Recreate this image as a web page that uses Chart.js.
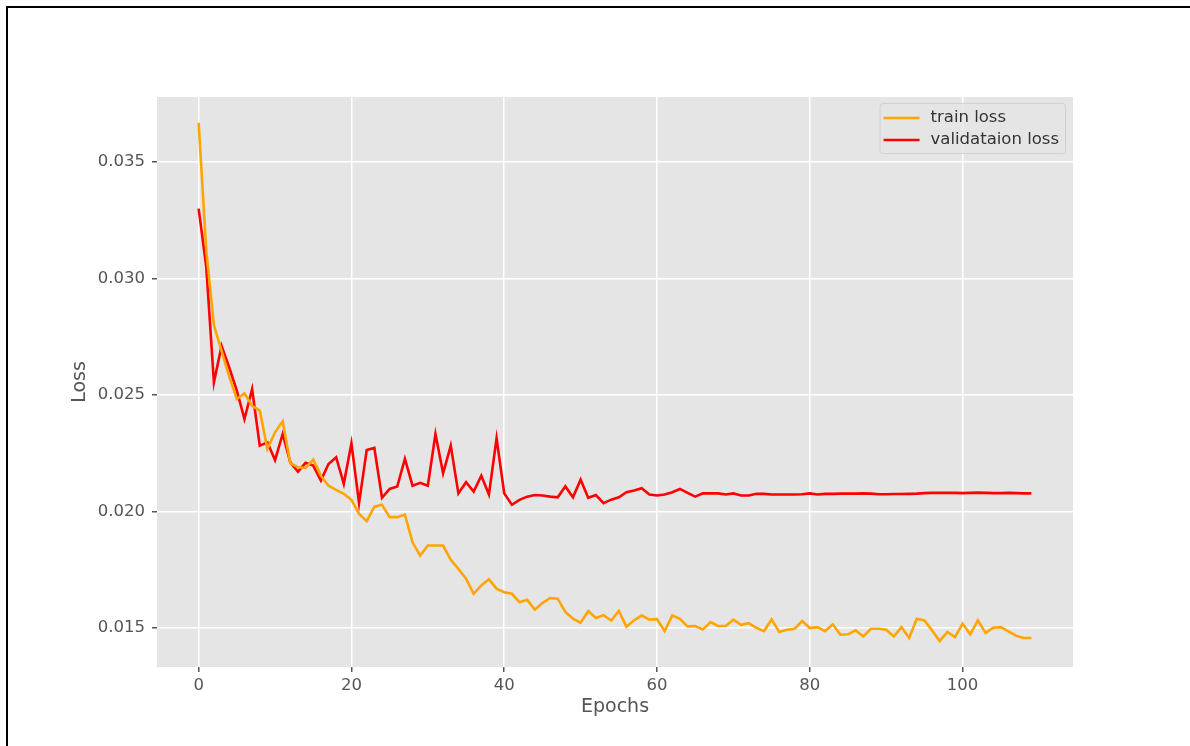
<!DOCTYPE html>
<html>
<head>
<meta charset="utf-8">
<title>Loss curves</title>
<script src="https://cdn.jsdelivr.net/npm/chart.js@4/dist/chart.umd.min.js"></script>
<style>
  html, body { margin: 0; padding: 0; background: #ffffff; }
  #wrap { position: relative; width: 1190px; height: 746px; overflow: hidden; }
  #frame { position: absolute; left: 6px; top: 6px; width: 1200px; height: 760px;
           border-top: 2px solid #000; border-left: 2px solid #000; pointer-events: none; }
  canvas { position: absolute; left: 0; top: 0; }
</style>
</head>
<body>
<div id="wrap">
  <canvas id="chart" width="1190" height="746"></canvas>
  <div id="frame"></div>
</div>
<script>
// Training history: one value per epoch
const trainLoss = [
  0.03668, 0.03120, 0.02800, 0.02690, 0.02580, 0.02483, 0.02507, 0.02454, 0.02433, 0.02269,
  0.02340, 0.02387, 0.02207, 0.02190, 0.02187, 0.02223, 0.02154, 0.02111, 0.02093, 0.02076,
  0.02050, 0.01990, 0.01959, 0.02021, 0.02029, 0.01976, 0.01976, 0.01987, 0.01868, 0.01811,
  0.01854, 0.01854, 0.01854, 0.01793, 0.01754, 0.01712, 0.01647, 0.01683, 0.01709, 0.01669,
  0.01654, 0.01647, 0.01611, 0.01621, 0.01579, 0.01607, 0.01629, 0.01626, 0.01569, 0.01540,
  0.01523, 0.01573, 0.01543, 0.01555, 0.01532, 0.01573, 0.01506, 0.01533, 0.01554, 0.01536,
  0.01538, 0.01487, 0.01554, 0.01540, 0.01507, 0.01509, 0.01494, 0.01526, 0.01509, 0.01509,
  0.01536, 0.01514, 0.01521, 0.01501, 0.01487, 0.01537, 0.01483, 0.01493, 0.01497, 0.01530,
  0.01500, 0.01504, 0.01487, 0.01516, 0.01472, 0.01473, 0.01490, 0.01464, 0.01497, 0.01497,
  0.01493, 0.01464, 0.01504, 0.01457, 0.01540, 0.01533, 0.01490, 0.01444, 0.01483, 0.01461,
  0.01519, 0.01473, 0.01533, 0.01479, 0.01501, 0.01504, 0.01486, 0.01467, 0.01457, 0.01457
];
const valLoss = [
  0.03300, 0.03050, 0.02554, 0.02711, 0.02618, 0.02519, 0.02397, 0.02526, 0.02283, 0.02297,
  0.02221, 0.02333, 0.02211, 0.02171, 0.02209, 0.02197, 0.02133, 0.02204, 0.02233, 0.02119,
  0.02293, 0.02036, 0.02264, 0.02273, 0.02059, 0.02097, 0.02108, 0.02226, 0.02111, 0.02123,
  0.02111, 0.02333, 0.02164, 0.02283, 0.02078, 0.02126, 0.02086, 0.02154, 0.02073, 0.02314,
  0.02078, 0.02029, 0.02050, 0.02064, 0.02071, 0.02069, 0.02064, 0.02061, 0.02108, 0.02061,
  0.02137, 0.02059, 0.02071, 0.02036, 0.02051, 0.02061, 0.02083, 0.02090, 0.02100, 0.02073,
  0.02069, 0.02073, 0.02083, 0.02097, 0.02080, 0.02064, 0.02078, 0.02078, 0.02078, 0.02073,
  0.02078, 0.02069, 0.02069, 0.02076, 0.02076, 0.02073, 0.02073, 0.02073, 0.02073, 0.02074,
  0.02078, 0.02073, 0.02076, 0.02076, 0.02077, 0.02077, 0.02077, 0.02078, 0.02077, 0.02074,
  0.02074, 0.02075, 0.02075, 0.02076, 0.02077, 0.02079, 0.02080, 0.02080, 0.02080, 0.02080,
  0.02079, 0.02080, 0.02081, 0.02080, 0.02079, 0.02079, 0.02080, 0.02079, 0.02078, 0.02078
];
const epochs = trainLoss.map((_, i) => i);
const xTicks = [0, 20, 40, 60, 80, 100];
const yTicks = [0.015, 0.020, 0.025, 0.030, 0.035];
const seriesNames = ['train loss', 'validataion loss'];
const seriesColors = ['#FFA500', '#FF0000'];
const xTitle = 'Epochs';
const yTitle = 'Loss';

// Axis limits with a 5% margin around the data, matplotlib-style
function padded(lo, hi) { const m = (hi - lo) * 0.05; return [lo - m, hi + m]; }
const [xMin, xMax] = padded(Math.min(...epochs), Math.max(...epochs));
const allY = trainLoss.concat(valLoss);
const [yMin, yMax] = padded(Math.min(...allY), Math.max(...allY));

const FONT = '"DejaVu Sans", sans-serif';
const PANEL = '#E5E5E5';
const TICK_COLOR = '#555555';

const panelBackground = {
  id: 'panelBackground',
  beforeDraw(chart) {
    const { ctx, chartArea: a } = chart;
    ctx.save();
    ctx.fillStyle = PANEL;
    ctx.fillRect(a.left, a.top, a.right - a.left, a.bottom - a.top);
    ctx.restore();
  }
};

const axisTitles = {
  id: 'axisTitles',
  afterDraw(chart) {
    const { ctx, chartArea: a } = chart;
    ctx.save();
    ctx.fillStyle = TICK_COLOR;
    ctx.font = '19px ' + FONT;
    ctx.textAlign = 'center';
    ctx.textBaseline = 'middle';
    ctx.fillText(xTitle, (a.left + a.right) / 2, 707);
    ctx.translate(80, (a.top + a.bottom) / 2);
    ctx.rotate(-Math.PI / 2);
    ctx.fillText(yTitle, 0, 0);
    ctx.restore();
  }
};

// Legend box in the upper-right corner of the panel
const insetLegend = {
  id: 'insetLegend',
  afterDatasetsDraw(chart) {
    const { ctx, chartArea: a } = chart;
    const ds = chart.data.datasets;
    ctx.save();
    ctx.font = '16.5px ' + FONT;
    let textW = 0;
    ds.forEach(d => { textW = Math.max(textW, ctx.measureText(d.label).width); });
    const handle = 36, gap = 11, padX = 4, rowH = 22, padY = 3;
    const w = padX + handle + gap + textW + padX + 2;
    const h = padY * 2 + rowH * ds.length;
    const x = a.right - 8 - w, y = a.top + 6;
    ctx.globalAlpha = 0.8;
    ctx.fillStyle = PANEL;
    ctx.strokeStyle = '#CCCCCC';
    ctx.lineWidth = 1;
    ctx.beginPath();
    ctx.roundRect(x + 0.5, y + 0.5, w, h, 3);
    ctx.fill();
    ctx.stroke();
    ctx.globalAlpha = 1;
    ds.forEach((d, i) => {
      const cy = y + padY + rowH * i + rowH / 2 + 1;
      ctx.strokeStyle = d.borderColor;
      ctx.lineWidth = 2.6;
      ctx.beginPath();
      ctx.moveTo(x + padX, cy);
      ctx.lineTo(x + padX + handle, cy);
      ctx.stroke();
      ctx.fillStyle = '#333333';
      ctx.textAlign = 'left';
      ctx.textBaseline = 'middle';
      ctx.fillText(d.label, x + padX + handle + gap, cy);
    });
    ctx.restore();
  }
};

new Chart(document.getElementById('chart'), {
  type: 'line',
  data: {
    labels: epochs,
    datasets: [trainLoss, valLoss].map((vals, k) => ({
      label: seriesNames[k],
      data: vals.map((v, i) => ({ x: epochs[i], y: v })),
      borderColor: seriesColors[k],
      backgroundColor: seriesColors[k],
      borderWidth: 2.6,
      pointRadius: 0,
      tension: 0,
      fill: false
    }))
  },
  options: {
    responsive: false,
    devicePixelRatio: 1,
    animation: false,
    layout: { padding: { left: 0, right: 117, top: 97, bottom: 0 } },
    plugins: { legend: { display: false }, tooltip: { enabled: false } },
    scales: {
      x: {
        type: 'linear',
        min: xMin,
        max: xMax,
        afterBuildTicks(scale) { scale.ticks = xTicks.map(v => ({ value: v })); },
        afterFit(scale) { scale.height = 79; },
        border: { display: false },
        grid: { color: '#FFFFFF', lineWidth: 1.5, tickColor: TICK_COLOR, tickLength: 5, drawTicks: true },
        ticks: { color: TICK_COLOR, font: { family: FONT, size: 16.5 }, padding: 4, maxRotation: 0,
                 callback: v => String(v) }
      },
      y: {
        type: 'linear',
        min: yMin,
        max: yMax,
        afterBuildTicks(scale) { scale.ticks = yTicks.map(v => ({ value: v })); },
        afterFit(scale) { scale.width = 157; },
        border: { display: false },
        grid: { color: '#FFFFFF', lineWidth: 1.5, tickColor: TICK_COLOR, tickLength: 5, drawTicks: true },
        ticks: { color: TICK_COLOR, font: { family: FONT, size: 16.5 }, padding: 7,
                 callback: v => v.toFixed(3) }
      }
    }
  },
  plugins: [panelBackground, insetLegend, axisTitles]
});
</script>
</body>
</html>
